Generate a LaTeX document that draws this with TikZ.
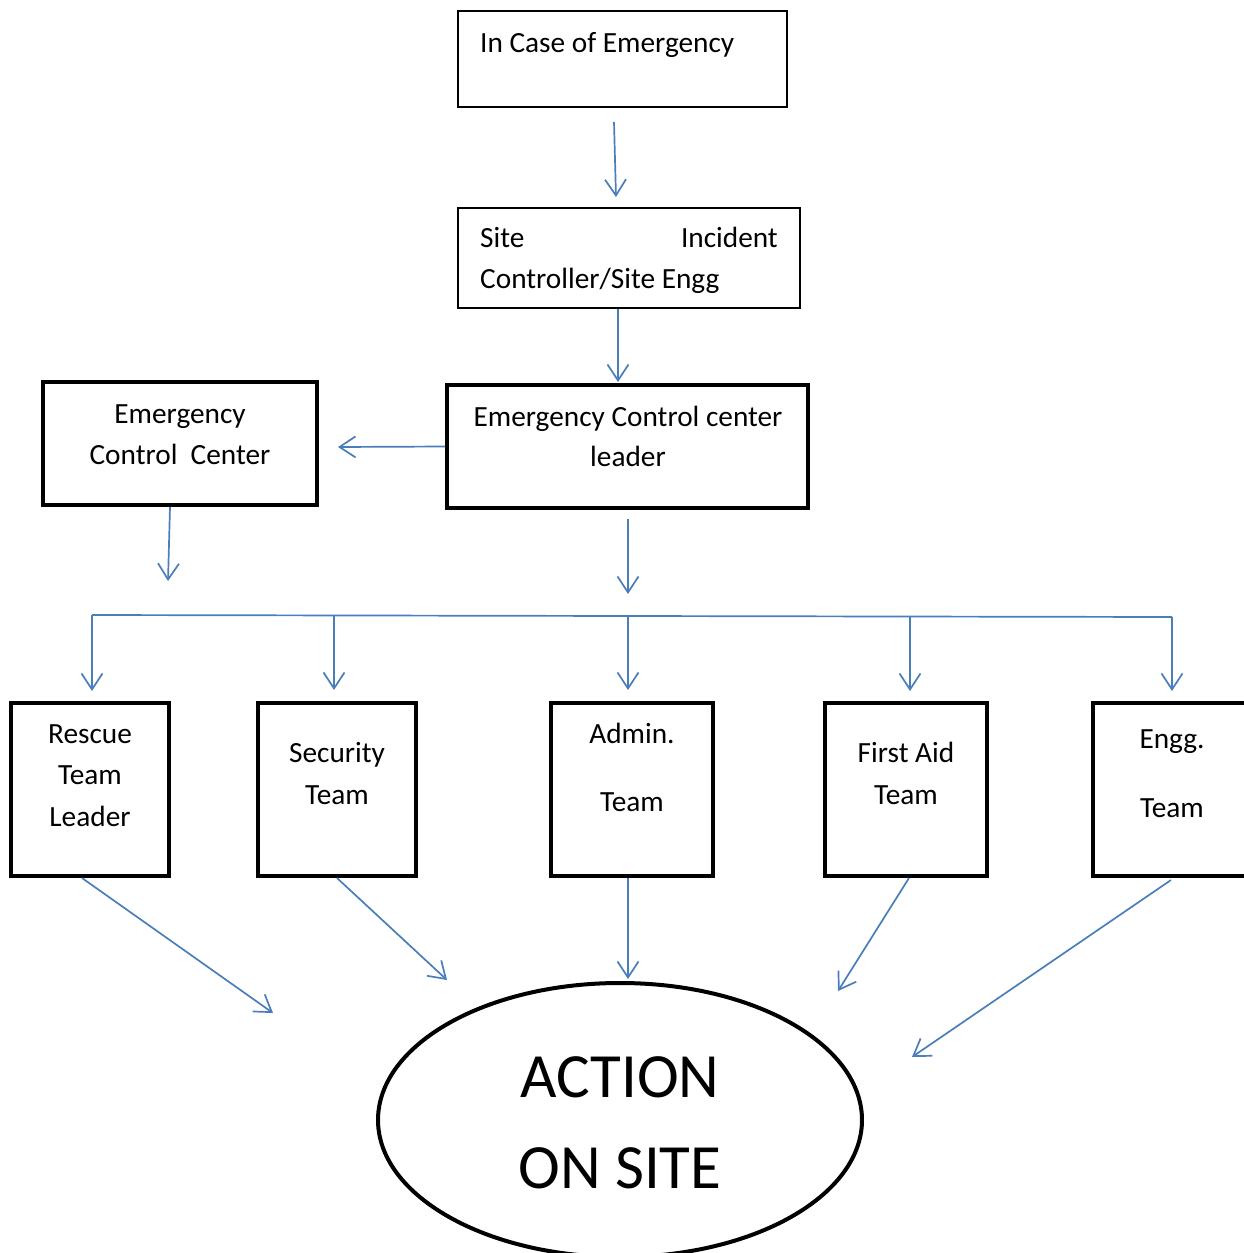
\documentclass[tikz,border=0pt]{standalone}
\usepackage{fontspec}
\setmainfont{Carlito}
\usetikzlibrary{arrows.meta,shapes.geometric,calc}
\definecolor{arrowblue}{RGB}{74,126,187}
\begin{document}
\begin{tikzpicture}[x=1pt,y=-1pt,
  box/.style={draw=black, line width=4pt, rectangle, inner sep=0pt},
  thinbox/.style={draw=black, line width=2.5pt, rectangle, inner sep=0pt},
  txt/.style={font=\fontsize{29.3}{34}\selectfont, inner sep=0pt, anchor=base},
  big/.style={font=\fontsize{63}{70}\selectfont, inner sep=0pt, anchor=base},
  conn/.style={draw=arrowblue, line width=1.7pt, -{Straight Barb[length=16pt,width=21pt]}},
  plainline/.style={draw=arrowblue, line width=1.7pt}]
\useasboundingbox (0,0) rectangle (1244,1253);

% boxes
\node[thinbox, minimum width=329pt, minimum height=96pt] (top) at (622.5,59) {};
\node[thinbox, minimum width=342pt, minimum height=100pt] (site) at (629,258) {};
\node[box, minimum width=361pt, minimum height=123pt] (eccl) at (627.5,446.5) {};
\node[box, minimum width=274pt, minimum height=123pt] (ecc) at (180,443.5) {};
\node[box, minimum width=158pt, minimum height=173pt] (rescue) at (90,789.5) {};
\node[box, minimum width=158pt, minimum height=173pt] (security) at (337,789.5) {};
\node[box, minimum width=162pt, minimum height=173pt] (admin) at (632,789.5) {};
\node[box, minimum width=162pt, minimum height=173pt] (firstaid) at (906,789.5) {};
\node[box, minimum width=161pt, minimum height=173pt] (engg) at (1173.5,789.5) {};
\node[ellipse, draw=black, line width=4pt, inner sep=0pt, minimum width=484pt, minimum height=274pt] (action) at (620,1120) {};

% texts
\node[txt, anchor=base west] (t1) at (480,52) {In Case of Emergency};
\node[txt, anchor=base west] (t2a) at (480,247) {Site};
\node[txt, anchor=base east] (t2b) at (778,247) {Incident};
\node[txt, anchor=base west] (t2c) at (480,288) {Controller/Site Engg};
\node[txt] (t3a) at (628,426) {Emergency Control center};
\node[txt] (t3b) at (628,466) {leader};
\node[txt] (t4a) at (180,423) {Emergency};
\node[txt] (t4b) at (180,464) {Control\ \ Center};
\node[txt] (r1) at (90,743) {Rescue};
\node[txt] (r2) at (90,784) {Team};
\node[txt] (r3) at (90,826) {Leader};
\node[txt] (s1) at (337,762) {Security};
\node[txt] (s2) at (337,804) {Team};
\node[txt] (a1) at (632,743) {Admin.};
\node[txt] (a2) at (632,811) {Team};
\node[txt] (f1) at (906,762) {First Aid};
\node[txt] (f2) at (906,804) {Team};
\node[txt] (e1) at (1172,748) {Engg.};
\node[txt] (e2) at (1172,817) {Team};
\node[big] (act1) at (620,1097) {ACTION};
\node[big] (act2) at (620,1188) {ON SITE};

% connector end points
\coordinate (c1s) at (614,122);  \coordinate (c1e) at (616,197);
\coordinate (c2e) at (618,382);
\coordinate (c3e) at (338,447);
\coordinate (c4e) at (168,581);
\coordinate (c5s) at (628,519);  \coordinate (c5e) at (628,594);
\coordinate (hL) at (92,615);    \coordinate (hR) at (1172,617);
\coordinate (d1s) at (92,615);   \coordinate (d1e) at (92,691);
\coordinate (d2s) at (334,615.5);\coordinate (d2e) at (334,690);
\coordinate (d3s) at (628,616);  \coordinate (d3e) at (628,690);
\coordinate (d4s) at (910,616.5);\coordinate (d4e) at (910,691);
\coordinate (d5s) at (1172,617); \coordinate (d5e) at (1172,691);
\coordinate (b1e) at (273,1013);
\coordinate (b2e) at (447,980);
\coordinate (b3e) at (628,979);
\coordinate (b4e) at (838,991);
\coordinate (b5s) at (1171,880); \coordinate (b5e) at (912,1057);

% connectors
\draw[conn] (c1s) -- (c1e);
\draw[conn] (site.south -| 618,0) -- (c2e);
\draw[conn] (eccl.west) -- (c3e);
\draw[conn] (ecc.south -| 170,0) -- (c4e);
\draw[conn] (c5s) -- (c5e);
\draw[plainline] (hL) -- (hR);
\draw[conn] (d1s) -- (d1e);
\draw[conn] (d2s) -- (d2e);
\draw[conn] (d3s) -- (d3e);
\draw[conn] (d4s) -- (d4e);
\draw[conn] (d5s) -- (d5e);
\draw[conn] (rescue.south -| 82,0) -- (b1e);
\draw[conn] (security.south) -- (b2e);
\draw[conn] (admin.south -| 628,0) -- (b3e);
\draw[conn] (firstaid.south -| 909,0) -- (b4e);
\draw[conn] (b5s) -- (b5e);
\end{tikzpicture}
\end{document}
